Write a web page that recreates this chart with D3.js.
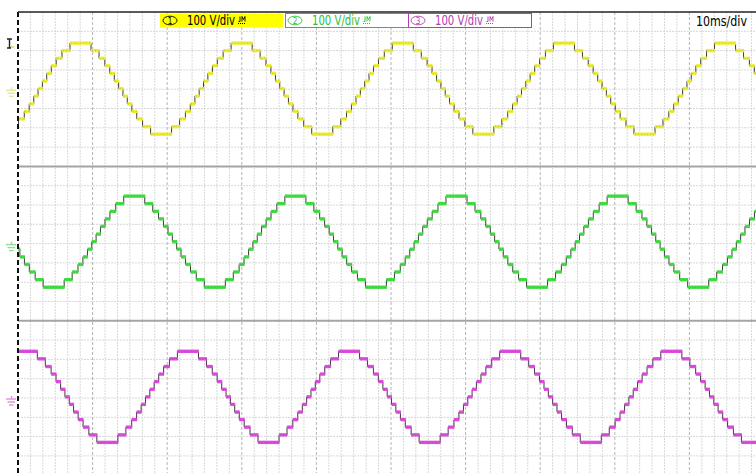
<!DOCTYPE html>
<html>
<head>
<meta charset="utf-8">
<script src="https://cdn.jsdelivr.net/npm/d3@7"></script>
<style>
  body { margin: 0; background: #fff; }
  text { font-family: "Liberation Sans Narrow", "DejaVu Sans Condensed", "Liberation Sans", sans-serif; }
</style>
</head>
<body>
<div id="vis"></div>
<script>
// one cycle of the staircase (ms after the rising zero crossing, level in V after the step)
const stepTimes = [0.29, 0.87, 1.48, 2.14, 2.92, 3.99, 6.81, 7.88, 8.66, 9.32, 9.93, 10.51,
                   11.09, 11.67, 12.28, 12.94, 13.72, 14.79, 17.61, 18.68, 19.46, 20.12, 20.73, 21.31]
const stepVolts = [39, 79, 118, 157, 197, 236, 197, 157, 118, 79, 39, 0,
                   -39, -79, -118, -157, -197, -236, -197, -157, -118, -79, -39, 0]
const period = 21.6

const channels = ['1', '2', '3']
const channelColors = ['#eeee30', '#44dc44', '#dc4cdc']
const headerColors = ['#000000', '#2fbf2f', '#b43cb4']
const groundColors = ['#e6e690', '#8fe08f', '#e08fe0']
const zeroCrossings = [2.98, 10.18, 17.38]   // ms, rising zero crossing of the first cycle
const dcOffsets = [3, 10, 6]                   // V
const voltsPerDiv = ['100 V/div', '100 V/div', '100 V/div']
const timeBase = '10ms/div'

const W = 756, H = 473
const plotLeft = 18, plotTop = 12
const divW = 74.6, divH = 19.3
const panelH = divH * 8

const x = d3.scaleLinear([0, 100], [plotLeft, plotLeft + divW * 10])
const panelTops = channels.map((c, i) => plotTop + i * panelH)
const yScales = panelTops.map(t => d3.scaleLinear([-400, 400], [t + panelH, t]))

let svg = d3.select('#vis').append('svg')
    .attr('width', W)
    .attr('height', H)

svg.append('rect').attr('width', W).attr('height', H).attr('fill', '#fff')

// grid
let grid = svg.append('g')
let minorT = d3.range(1, 60).map(i => i * 10 / 6)
grid.selectAll('.vminor')
    .data(minorT.filter((d, i) => (i + 1) % 6 !== 0))
    .enter().append('line')
        .attr('x1', d => x(d)).attr('x2', d => x(d))
        .attr('y1', plotTop).attr('y2', H)
        .attr('stroke', '#d8d8d8')
        .attr('stroke-dasharray', '2,1')
grid.selectAll('.vmajor')
    .data(d3.range(10, 100, 10))
    .enter().append('line')
        .attr('x1', d => x(d)).attr('x2', d => x(d))
        .attr('y1', plotTop).attr('y2', H)
        .attr('stroke', '#b4b4b4')
        .attr('stroke-dasharray', '3,2')

yScales.forEach(y => {
    grid.append('g').selectAll('line')
        .data([-300, -200, -100, 0, 100, 200, 300])
        .enter().append('line')
            .attr('x1', plotLeft).attr('x2', W)
            .attr('y1', d => y(d)).attr('y2', d => y(d))
            .attr('stroke', '#d8d8d8')
            .attr('stroke-dasharray', '2,1')
})

// panel separators
svg.selectAll('.sep')
    .data(panelTops.slice(1))
    .enter().append('line')
        .attr('x1', plotLeft).attr('x2', W)
        .attr('y1', d => d).attr('y2', d => d)
        .attr('stroke', '#a4a4a4')
        .attr('stroke-width', 2)

svg.append('clipPath').attr('id', 'plot')
    .append('rect').attr('x', plotLeft).attr('y', plotTop).attr('width', W - plotLeft).attr('height', H - plotTop)

// traces
channels.forEach((c, ci) => {
    let y = yScales[ci]
    let pts = [{t: zeroCrossings[ci] - period - 1, v: dcOffsets[ci]}]
    for (let k = -1; k < 6; k++) {
        stepTimes.forEach((t, i) => {
            pts.push({t: zeroCrossings[ci] + k * period + t, v: stepVolts[i] + dcOffsets[ci]})
        })
    }
    let segs = d3.pairs(pts)
    let g = svg.append('g').attr('clip-path', 'url(#plot)')

    g.append('path')
        .datum(pts)
        .attr('fill', 'none')
        .attr('stroke', '#3a3a3a')
        .attr('stroke-width', 1)
        .attr('d', d3.line().x(d => x(d.t)).y(d => y(d.v)).curve(d3.curveStepAfter))

    g.selectAll('.flat')
        .data(segs)
        .enter().append('line')
            .attr('x1', d => x(d[0].t)).attr('x2', d => x(d[1].t) + 0.5)
            .attr('y1', d => y(d[0].v)).attr('y2', d => y(d[0].v))
            .attr('stroke', channelColors[ci])
            .attr('stroke-width', 3.4)

    g.selectAll('.noise')
        .data(segs)
        .enter().append('line')
            .attr('x1', d => x(d[0].t) + 1).attr('x2', d => x(d[1].t))
            .attr('y1', d => y(d[0].v)).attr('y2', d => y(d[0].v))
            .attr('stroke', '#555')
            .attr('stroke-opacity', 0.35)
            .attr('stroke-width', 0.8)
            .attr('stroke-dasharray', '1,2')

    // ground marker
    let cy = y(0) + 1
    let gm = svg.append('g').attr('stroke', groundColors[ci]).attr('stroke-width', 1.4)
    gm.append('line').attr('x1', 11.5).attr('x2', 11.5).attr('y1', cy - 3).attr('y2', cy)
    gm.append('line').attr('x1', 6).attr('x2', 16).attr('y1', cy).attr('y2', cy)
    gm.append('line').attr('x1', 7.5).attr('x2', 15).attr('y1', cy + 3).attr('y2', cy + 3)
    gm.append('line').attr('x1', 9).attr('x2', 13.5).attr('y1', cy + 6).attr('y2', cy + 6)
})

// trigger mark
let trig = svg.append('g')
trig.append('path')
    .attr('d', 'M7,39 H12 M9.5,39 V48 M7,48 H11')
    .attr('stroke', '#222').attr('stroke-width', 1.4).attr('fill', 'none')
trig.append('rect').attr('x', 11).attr('y', 46).attr('width', 3).attr('height', 2).attr('fill', '#eeee30')

// frame
svg.append('line')
    .attr('x1', plotLeft).attr('x2', plotLeft).attr('y1', plotTop).attr('y2', H)
    .attr('stroke', '#111').attr('stroke-width', 2)
    .attr('stroke-dasharray', '5,3')
svg.append('line')
    .attr('x1', plotLeft).attr('x2', W).attr('y1', plotTop).attr('y2', plotTop)
    .attr('stroke', '#222').attr('stroke-width', 1.5)

// header boxes
const boxX = [160, 285, 408]
const boxW = 123
channels.forEach((c, i) => {
    let g = svg.append('g').attr('transform', `translate(${boxX[i]}, 13)`)
    g.append('rect')
        .attr('x', i === 0 ? 0 : 0.5).attr('y', 0.5)
        .attr('width', boxW).attr('height', 14)
        .attr('fill', i === 0 ? '#ffff00' : '#fff')
        .attr('stroke', i === 0 ? 'none' : headerColors[i])
    g.append('ellipse')
        .attr('cx', 10).attr('cy', 7.5).attr('rx', 7).attr('ry', 4.3)
        .attr('fill', 'none').attr('stroke', headerColors[i]).attr('stroke-width', 0.9)
    g.append('text')
        .attr('x', 10).attr('y', 10.5)
        .attr('text-anchor', 'middle')
        .attr('font-size', 8)
        .attr('fill', headerColors[i])
        .text(c)
    g.append('text')
        .attr('x', 27).attr('y', 12)
        .attr('font-size', 14)
        .attr('textLength', 48).attr('lengthAdjust', 'spacingAndGlyphs')
        .attr('fill', headerColors[i])
        .text(voltsPerDiv[i])
    g.append('line')
        .attr('x1', 78).attr('x2', 86).attr('y1', 10.5).attr('y2', 10.5)
        .attr('stroke', headerColors[i]).attr('stroke-width', 1).attr('stroke-dasharray', '1,1')
    g.append('path')
        .attr('d', 'M80,3.5 V8.5 H78.5 M82,8.5 V3.5 L83.5,6.5 L85,3.5 V8.5')
        .attr('fill', 'none').attr('stroke', headerColors[i]).attr('stroke-width', 0.9)
})

svg.append('text')
    .attr('x', 696).attr('y', 26)
    .attr('font-size', 14)
    .attr('textLength', 51).attr('lengthAdjust', 'spacingAndGlyphs')
    .attr('fill', '#000')
    .text(timeBase)
</script>
</body>
</html>
